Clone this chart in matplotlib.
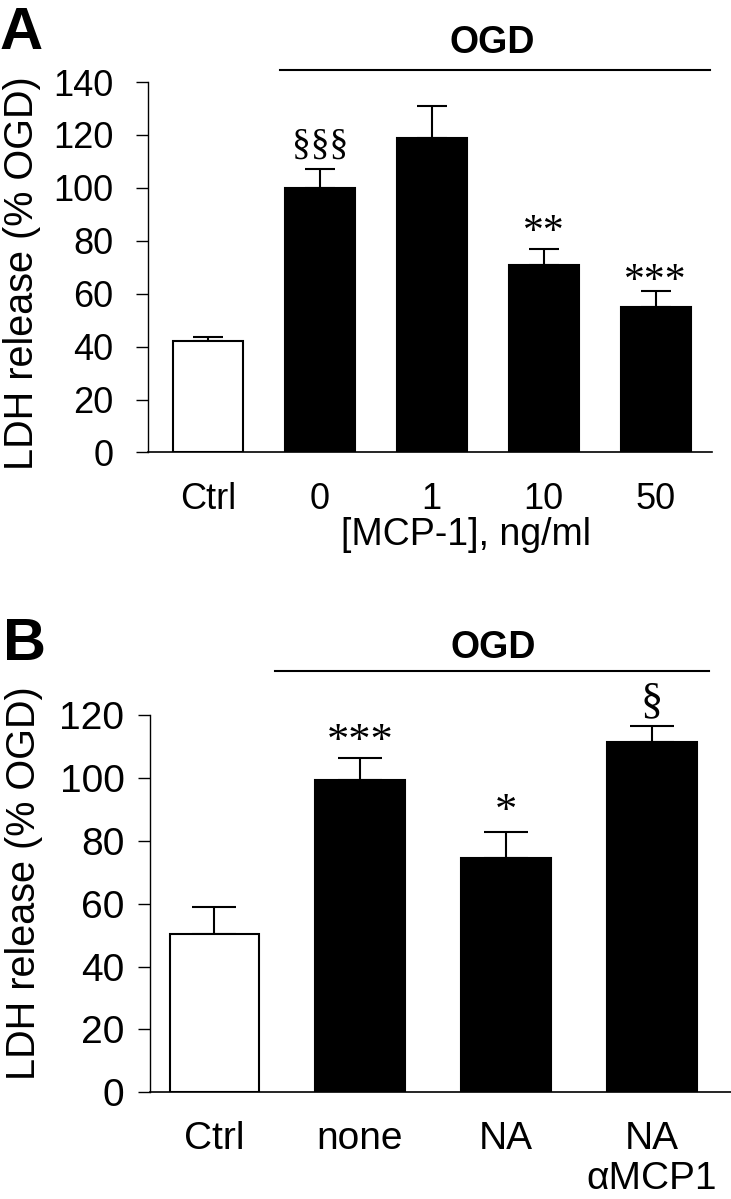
import matplotlib
matplotlib.use("Agg")
import matplotlib.pyplot as plt

plt.rcParams['font.family'] = ['Liberation Sans', 'DejaVu Sans']

# panel A data
a_labels = ["Ctrl", "0", "1", "10", "50"]
a_means = [42.1, 99.8, 118.8, 71.0, 55.0]
a_sem = [1.4, 7.5, 12.3, 5.9, 5.9]
a_colors = ["white", "black", "black", "black", "black"]
a_marks = ["", "§§§", "", "**", "***"]
a_mark_y = [0, 116, 0, 83, 64.6]
a_mark_fs = [0, 27, 0, 30, 30]

# panel B data
b_labels = ["Ctrl", "none", "NA", "NA\nαMCP1"]
b_means = [50.5, 99.4, 74.4, 111.5]
b_sem = [8.5, 7.0, 8.3, 5.1]
b_colors = ["white", "black", "black", "black"]
b_marks = ["", "***", "*", "§"]
b_mark_y = [0, 111.5, 89.3, 124.5]
b_mark_fs = [0, 32, 32, 32]

W, H = 731, 1199
fig = plt.figure(figsize=(W / 100, H / 100), dpi=100)


def px_axes(left, right, bottom, top):
    return fig.add_axes([left / W, 1 - bottom / H, (right - left) / W, (bottom - top) / H])


def draw_panel(ax, labels, means, sem, colors, marks, mark_y, mark_fs, ymax, xlim,
               width, capsize, fs, ypad):
    x = list(range(len(labels)))
    ax.bar(x, means, width=width, color=colors, edgecolor="black", linewidth=1.5, zorder=2)
    ax.errorbar(x, means, yerr=[[0] * len(x), sem], fmt="none", ecolor="black",
                elinewidth=1.5, capsize=capsize, capthick=1.5, zorder=1)
    for xi, m, my, mf in zip(x, marks, mark_y, mark_fs):
        if m:
            ax.text(xi, my, m, ha="center", va="center", fontsize=mf,
                    family="Liberation Serif")
    ax.set_xlim(*xlim)
    ax.set_ylim(0, ymax)
    ax.set_yticks(range(0, ymax + 1, 20))
    ax.set_xticks(x)
    ax.set_xticklabels(labels, fontsize=fs, linespacing=1.12)
    ax.tick_params(axis="x", length=0, pad=21)
    ax.tick_params(axis="y", direction="out", length=9, width=1, labelsize=fs, pad=ypad)
    for s in ["top", "right"]:
        ax.spines[s].set_visible(False)
    ax.spines["left"].set_linewidth(1)
    ax.spines["bottom"].set_linewidth(1.2)


# ---- panel A ----
axA = px_axes(148, 712, 452.5, 82)
draw_panel(axA, a_labels, a_means, a_sem, a_colors, a_marks, a_mark_y, a_mark_fs, 140,
           (-0.534, 4.502), 0.625, 11, 26, 16)
axA.set_ylabel("LDH release (% OGD)", fontsize=28.5)
axA.yaxis.set_label_coords(-0.19, 0.483)
axA.set_xlabel("[MCP-1], ng/ml", fontsize=27)
axA.xaxis.set_label_coords(0.564, -0.173)
axA.plot([0.645, 4.484], [144.5, 144.5], color="black", lw=1.5, clip_on=False)
axA.text(2.54, 154.7, "OGD", ha="center", va="center", fontsize=27, fontweight="bold")

# ---- panel B ----
axB = px_axes(149.5, 731, 1092.3, 715)
draw_panel(axB, b_labels, b_means, b_sem, b_colors, b_marks, b_mark_y, b_mark_fs, 120,
           (-0.442, 3.541), 0.61, 16, 28, 9)
axB.set_ylabel("LDH release (% OGD)", fontsize=28.5)
axB.yaxis.set_label_coords(-0.183, 0.555)
axB.plot([0.418, 3.388], [134, 134], color="black", lw=1.5, clip_on=False)
axB.text(1.91, 141.3, "OGD", ha="center", va="center", fontsize=27, fontweight="bold")

fig.text(0.0, 1 - 6 / H, "A", fontsize=43, fontweight="bold", ha="left", va="top")
fig.text(3 / W, 1 - 617 / H, "B", fontsize=43, fontweight="bold", ha="left", va="top")

fig.savefig("out.png", dpi=100)
